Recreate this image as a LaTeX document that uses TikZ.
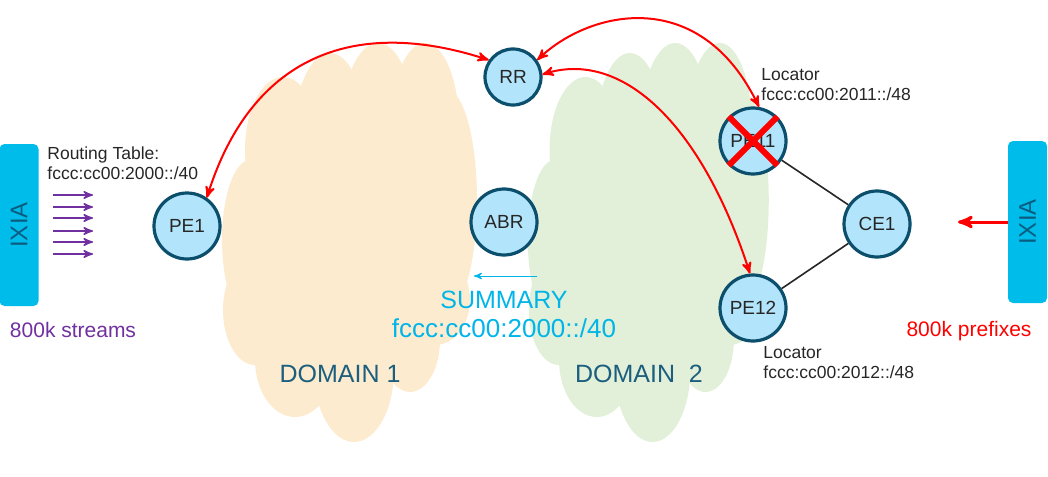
\documentclass[tikz,border=0pt]{standalone}
\usepackage{fontspec}
\setmainfont{Liberation Sans}
\usepackage{tikz}
\usetikzlibrary{arrows}
\definecolor{cloudA}{HTML}{FDEBCF}
\definecolor{cloudB}{HTML}{E2F0D9}
\definecolor{routerfill}{HTML}{B2E5FB}
\definecolor{routerline}{HTML}{0B4F6C}
\definecolor{ixiablue}{HTML}{00BCEB}
\definecolor{ixiatext}{HTML}{0B5D80}
\definecolor{streampurple}{HTML}{7030A0}
\definecolor{sumcyan}{HTML}{00B5E8}
\definecolor{domaintext}{HTML}{1B5E7E}
\tikzset{
  router/.style={circle,draw=routerline,fill=routerfill,line width=1.6pt,inner sep=0pt,minimum size=33pt,font=\fontsize{9.5}{11}\selectfont,text=black!85},
  ixia/.style={rectangle,rounded corners=2.5pt,fill=ixiablue,rotate=90,minimum width=81pt,minimum height=19.5pt,text=ixiatext,font=\fontsize{12}{14}\selectfont},
  bgp/.style={<->,>=stealth',red,line width=1pt},
  small/.style={align=left,inner sep=0pt,text=black!85,font=\fontsize{8.75}{10}\selectfont}
}
\begin{document}
\begin{tikzpicture}[x=0.5pt,y=-0.5pt]
\useasboundingbox (0,0) rectangle (1048,476);
% domain clouds
\foreach \sh/\xs/\col in {0/1/cloudA, 318/0.945/cloudB}{
\begin{scope}[shift={(\sh,0)},xscale=\xs]
\foreach \cx/\cy/\rx/\ry in {350/235/118/120, 250/240/28/80, 283/150/38/73, 330/135/36/82, 378/125/36/82, 425/125/34/82, 447/200/30/110, 435/300/35/45, 410/340/30/52, 354/370/40/72, 295/360/40/57, 255/310/32/55}
  \fill[\col] (\cx,\cy) ellipse [x radius=\rx, y radius=\ry];
\end{scope}
}
\node[text=domaintext,font=\fontsize{12.5}{14}\selectfont] (dom1) at (340,374) {DOMAIN 1};
\node[text=domaintext,font=\fontsize{12.5}{14}\selectfont] (dom2) at (639,374) {DOMAIN~~2};
% traffic generators
\node[ixia] (IXIAL) at (19,225) {IXIA};
\node[ixia] (IXIAR) at (1027.5,222) {IXIA};
\node[text=streampurple,font=\fontsize{10.5}{12}\selectfont] (streams) at (73,330) {800k streams};
\node[text=red,font=\fontsize{10.5}{12}\selectfont] (prefixes) at (969,331) {800k prefixes};
\foreach \i/\y in {1/195,2/207,3/218,4/231,5/242,6/254}{
  \coordinate (sa\i) at (53,\y);
  \coordinate (sb\i) at (93,\y);
  \draw[->,>=stealth',streampurple,line width=0.75pt] (sa\i) -- (sb\i);
}
\node[small,anchor=north west] (rtable) at (47,146) {Routing Table:\\fccc:cc00:2000::/40};
% routers
\node[router] (PE1) at (187,226) {PE1};
\node[router,minimum size=28pt] (RR) at (513,77) {RR};
\node[router] (ABR) at (504,222) {ABR};
\node[router] (PE11) at (753,141) {PE11};
\node[router] (PE12) at (753,308) {PE12};
\node[router] (CE1) at (877,224) {CE1};
\draw[black!85,line width=0.8pt] (PE11) -- (CE1) -- (PE12);
\draw[red,line width=3pt] (PE11.135) -- (PE11.-45);
\draw[red,line width=3pt] (PE11.45) -- (PE11.-135);
\node[small,anchor=north west] (locA) at (761,68) {Locator\\fccc:cc00:2011::/48};
\node[small,anchor=north west] (locB) at (763,346) {Locator\\fccc:cc00:2012::/48};
% BGP sessions
\draw[bgp] (PE1.55) .. controls (250,60) and (350,15) .. (RR.145);
\draw[bgp] (RR.35) .. controls (590,10) and (700,-15) .. (PE11.80);
\draw[bgp] (RR.5) .. controls (620,50) and (700,120) .. (PE12.95);
% prefixes in, summary out
\coordinate (feed) at (958,222);
\draw[->,>=stealth',red,line width=1.5pt] (IXIAR.north) -- (feed);
\coordinate (sumA) at (537,276);
\coordinate (sumB) at (474,276);
\draw[->,>=stealth',sumcyan,line width=0.5pt] (sumA) -- (sumB);
\node[text=sumcyan,font=\fontsize{12.5}{14}\selectfont] (summary) at (504,300) {SUMMARY};
\node[text=sumcyan,font=\fontsize{13}{15}\selectfont] (sumpfx) at (504,328) {fccc:cc00:2000::/40};
\end{tikzpicture}
\end{document}
